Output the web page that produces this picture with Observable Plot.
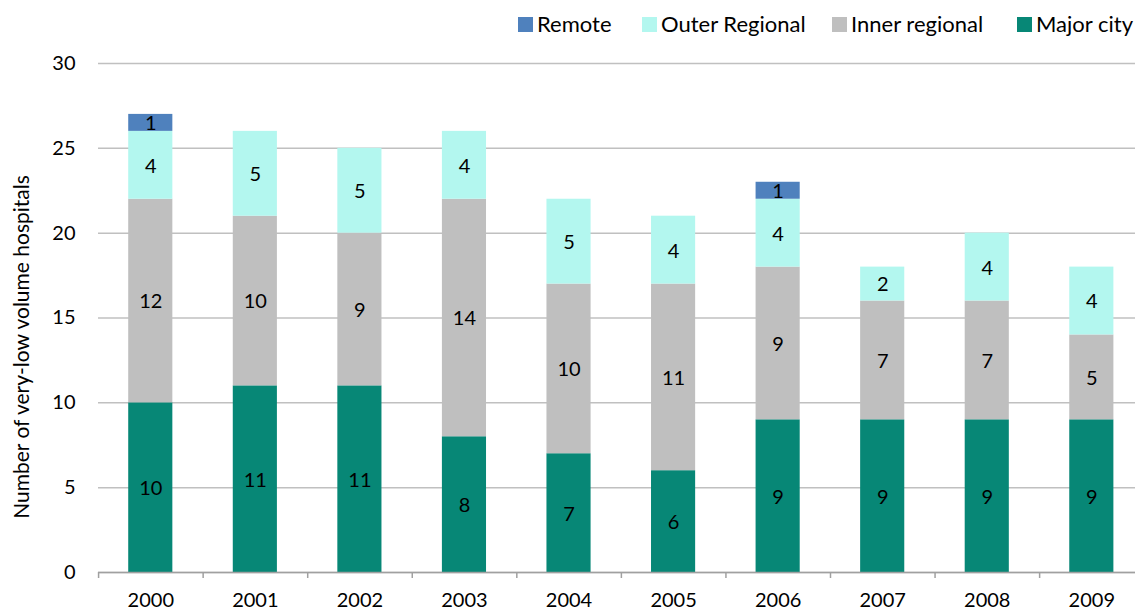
<!DOCTYPE html>
<html>
<head>
<meta charset="utf-8">
<script src="https://cdn.jsdelivr.net/npm/d3@7"></script>
<script src="https://cdn.jsdelivr.net/npm/@observablehq/plot@0.6"></script>
<style>
  html, body { margin: 0; padding: 0; background: #fff; overflow: hidden; }
  body { width: 1135px; height: 611px; position: relative; font-family: Lato, "Noto Sans", sans-serif; }
  #legend { position: absolute; top: 0; left: 0; width: 1135px; height: 45px; font-size: 22px; color: #000; }
  #legend .sw { position: absolute; top: 17px; width: 15px; height: 15px; }
  #legend .lbl { position: absolute; top: 11px; line-height: 26px; white-space: nowrap; }
  #chart { position: absolute; top: 0; left: 0; }
</style>
</head>
<body>
<div id="chart"></div>
<div id="legend"></div>
<script>
const years = ["2000","2001","2002","2003","2004","2005","2006","2007","2008","2009"];
const seriesNames = ["Major city","Inner regional","Outer Regional","Remote"];
const majorCity     = [10,11,11,8,7,6,9,9,9,9];
const innerRegional = [12,10,9,14,10,11,9,7,7,5];
const outerRegional = [4,5,5,4,5,4,4,2,4,4];
const remote        = [1,0,0,0,0,0,1,0,0,0];
const colors = ["#078776","#bfbfbf","#b3f7ef","#4f81bd"];
const legendOrder = ["Remote","Outer Regional","Inner regional","Major city"];
const legendX = [518, 642, 832, 1017];
const yTicks = [0,5,10,15,20,25,30];
const yLabel = "Number of very-low volume hospitals";

const seriesValues = [majorCity, innerRegional, outerRegional, remote];
const data = [];
seriesValues.forEach((vals, si) => {
  vals.forEach((v, i) => data.push({year: years[i], series: seriesNames[si], value: v}));
});

const plot = Plot.plot({
  width: 1135,
  height: 611,
  marginLeft: 98,
  marginRight: -8.6,
  marginTop: 63,
  marginBottom: 39,
  style: {fontFamily: "Lato, 'Noto Sans', sans-serif", fontSize: "20px", color: "#000", background: "transparent"},
  x: {domain: years, paddingInner: 0.578, paddingOuter: 0.289, round: false, label: null},
  y: {domain: [0, 30], label: null},
  color: {domain: seriesNames, range: colors},
  marks: [
    Plot.gridY(yTicks, {stroke: "#c0c0c0", strokeOpacity: 1, strokeWidth: 1.5}),
    Plot.barY(data, {x: "year", y: "value", fill: "series", order: seriesNames}),
    Plot.text(data.filter(d => d.value > 0), Plot.stackY({x: "year", y: "value", z: "series", order: seriesNames, text: "value", fill: "#000", fontSize: 20, dy: 1})),
    Plot.ruleY([0], {stroke: "#a0a0a0", strokeWidth: 1.5}),
    Plot.ruleX(years, {x: d => d, dx: -52.2, y1: 0, y2: 0, insetBottom: -6, stroke: "#a0a0a0", strokeWidth: 1.5}),
    Plot.axisY(yTicks, {tickSize: 0, tickPadding: 23, label: null, fontSize: 20}),
    Plot.axisX({tickSize: 0, tickPadding: 20, label: null, fontSize: 20})
  ]
});
document.getElementById("chart").appendChild(plot);

d3.select(plot).append("text")
  .attr("transform", "translate(29,347) rotate(-90)")
  .attr("text-anchor", "middle")
  .attr("font-size", 21)
  .attr("fill", "#000")
  .text(yLabel);

const legend = d3.select("#legend");
legendOrder.forEach((name, i) => {
  legend.append("div").attr("class", "sw")
    .style("left", legendX[i] + "px")
    .style("background", colors[seriesNames.indexOf(name)]);
  legend.append("div").attr("class", "lbl")
    .style("left", (legendX[i] + 19) + "px")
    .text(name);
});
</script>
</body>
</html>
